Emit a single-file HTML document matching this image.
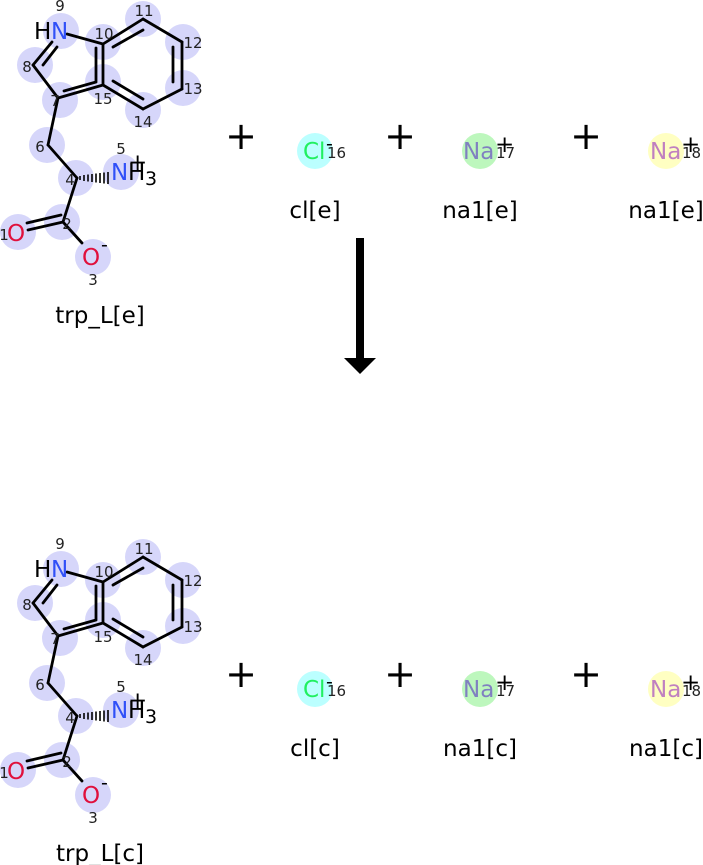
<!DOCTYPE html>
<html><head><meta charset="utf-8"><style>
html,body{margin:0;padding:0;background:#fff;width:703px;height:865px;overflow:hidden}
svg{display:block}
text{font-family:"DejaVu Sans","Liberation Sans",sans-serif}
.a{font-size:23px}
.n{font-size:15px}
.s{font-size:19px}
.p{font-size:38px}
.l{font-size:23px}
</style></head><body>
<svg width="703" height="865" viewBox="0 0 703 865" xmlns="http://www.w3.org/2000/svg">
<defs>
<g id="trp">
  <g fill="#d6d6fa">
    <circle cx="61" cy="31" r="18"/><circle cx="35" cy="65" r="18"/><circle cx="60" cy="100" r="18"/>
    <circle cx="103" cy="42" r="18"/><circle cx="103" cy="82" r="18"/><circle cx="143" cy="19" r="18"/>
    <circle cx="183" cy="42" r="18"/><circle cx="183" cy="88" r="18"/><circle cx="143" cy="110" r="18"/>
    <circle cx="47" cy="145" r="18"/><circle cx="76" cy="178" r="18"/><circle cx="121" cy="172" r="18"/>
    <circle cx="62" cy="222" r="18"/><circle cx="18" cy="232" r="18"/><circle cx="93" cy="257" r="18"/>
  </g>
  <g stroke="#000" stroke-width="2.8" fill="none" stroke-linecap="round">
    <line x1="67" y1="34" x2="103" y2="44"/>
    <line x1="52" y1="42" x2="33" y2="65"/>
    <line x1="43" y1="65" x2="57" y2="47"/>
    <line x1="33" y1="65" x2="58" y2="98"/>
    <line x1="58" y1="98" x2="103" y2="85"/>
    <line x1="64" y1="91" x2="96" y2="82"/>
    <line x1="103" y1="44" x2="103" y2="85"/>
    <line x1="96" y1="48" x2="96" y2="81"/>
    <line x1="103" y1="44" x2="143" y2="19"/>
    <line x1="113" y1="47" x2="143" y2="30"/>
    <line x1="143" y1="19" x2="182" y2="42"/>
    <line x1="182" y1="42" x2="182" y2="89"/>
    <line x1="173" y1="47" x2="173" y2="82"/>
    <line x1="182" y1="89" x2="143" y2="109"/>
    <line x1="143" y1="109" x2="103" y2="85"/>
    <line x1="113" y1="81" x2="143" y2="99"/>
    <line x1="58" y1="98" x2="48" y2="145"/>
    <line x1="48" y1="145" x2="77" y2="178"/>
    <line x1="77" y1="178" x2="63" y2="222"/>
    <line x1="63" y1="222" x2="28" y2="230"/>
    <line x1="61" y1="215" x2="27" y2="223"/>
    <line x1="63" y1="222" x2="82" y2="243"/>
  </g>
  <g stroke="#000" stroke-width="1.6">
    <line x1="80" y1="176" x2="80" y2="180"/><line x1="84" y1="175" x2="84" y2="181"/>
    <line x1="88" y1="174.5" x2="88" y2="181.5"/><line x1="92" y1="174" x2="92" y2="182"/>
    <line x1="96" y1="173.5" x2="96" y2="182.5"/><line x1="100" y1="173" x2="100" y2="183"/>
    <line x1="104" y1="172.5" x2="104" y2="183.5"/><line x1="108" y1="172" x2="108" y2="184"/>
  </g>
  <text class="a" x="34" y="39" fill="#000">H</text><text class="a" x="51" y="39" fill="#3050f8">N</text>
  <text class="a" x="111" y="180" fill="#3050f8">N</text><text class="a" x="128" y="180" fill="#000">H</text>
  <text class="s" x="145" y="185" fill="#000">3</text>
  <text class="a" x="128" y="170" fill="#000">+</text>
  <text class="a" x="7" y="241" fill="#e0103c">O</text>
  <text class="a" x="82" y="265" fill="#e0103c">O</text>
  <text class="s" x="101" y="251" fill="#000">-</text>
  <g fill="#222" text-anchor="middle">
    <text class="n" x="60" y="11">9</text><text class="n" x="104" y="39">10</text><text class="n" x="144" y="16">11</text>
    <text class="n" x="193" y="48">12</text><text class="n" x="193" y="94">13</text><text class="n" x="143" y="127">14</text>
    <text class="n" x="103" y="104">15</text><text class="n" x="27" y="72">8</text><text class="n" x="55" y="106">7</text>
    <text class="n" x="40" y="152">6</text><text class="n" x="121" y="154">5</text><text class="n" x="70" y="185">4</text>
    <text class="n" x="67" y="229">2</text><text class="n" x="4" y="240">1</text><text class="n" x="93" y="285">3</text>
  </g>
</g>
<g id="ions">
  <text class="p" x="241" y="13" text-anchor="middle">+</text>
  <text class="p" x="400" y="13" text-anchor="middle">+</text>
  <text class="p" x="586" y="13" text-anchor="middle">+</text>
  <circle cx="315" cy="15" r="18" fill="#bbffff"/>
  <circle cx="480" cy="15" r="18" fill="#bdf7bd"/>
  <circle cx="666" cy="15" r="18" fill="#ffffc2"/>
  <text class="a" x="303" y="23" fill="#20f060">Cl</text>
  <text class="s" x="326" y="14">-</text>
  <text class="n" x="327" y="22" fill="#222">16</text>
  <text class="a" x="463" y="23" fill="#8080c0">Na</text>
  <text class="a" x="495" y="16">+</text>
  <text class="n" x="496" y="22" fill="#222">17</text>
  <text class="a" x="650" y="23" fill="#c080c0">Na</text>
  <text class="a" x="681" y="16">+</text>
  <text class="n" x="682" y="22" fill="#222">18</text>
</g>
</defs>
<use href="#trp"/>
<g transform="translate(0,538)"><use href="#trp"/></g>
<g transform="translate(0,136)"><use href="#ions"/></g>
<g transform="translate(0,674)"><use href="#ions"/></g>
<g text-anchor="middle" fill="#000">
  <text class="l" x="100" y="323">trp_L[e]</text>
  <text class="l" x="315" y="218">cl[e]</text>
  <text class="l" x="480" y="218">na1[e]</text>
  <text class="l" x="666" y="218">na1[e]</text>
  <text class="l" x="100" y="861">trp_L[c]</text>
  <text class="l" x="315" y="756">cl[c]</text>
  <text class="l" x="480" y="756">na1[c]</text>
  <text class="l" x="666" y="756">na1[c]</text>
</g>
<rect x="356" y="238" width="8" height="122" fill="#000"/>
<polygon points="344,358 376,358 360,374" fill="#000"/>
</svg>
</body></html>
